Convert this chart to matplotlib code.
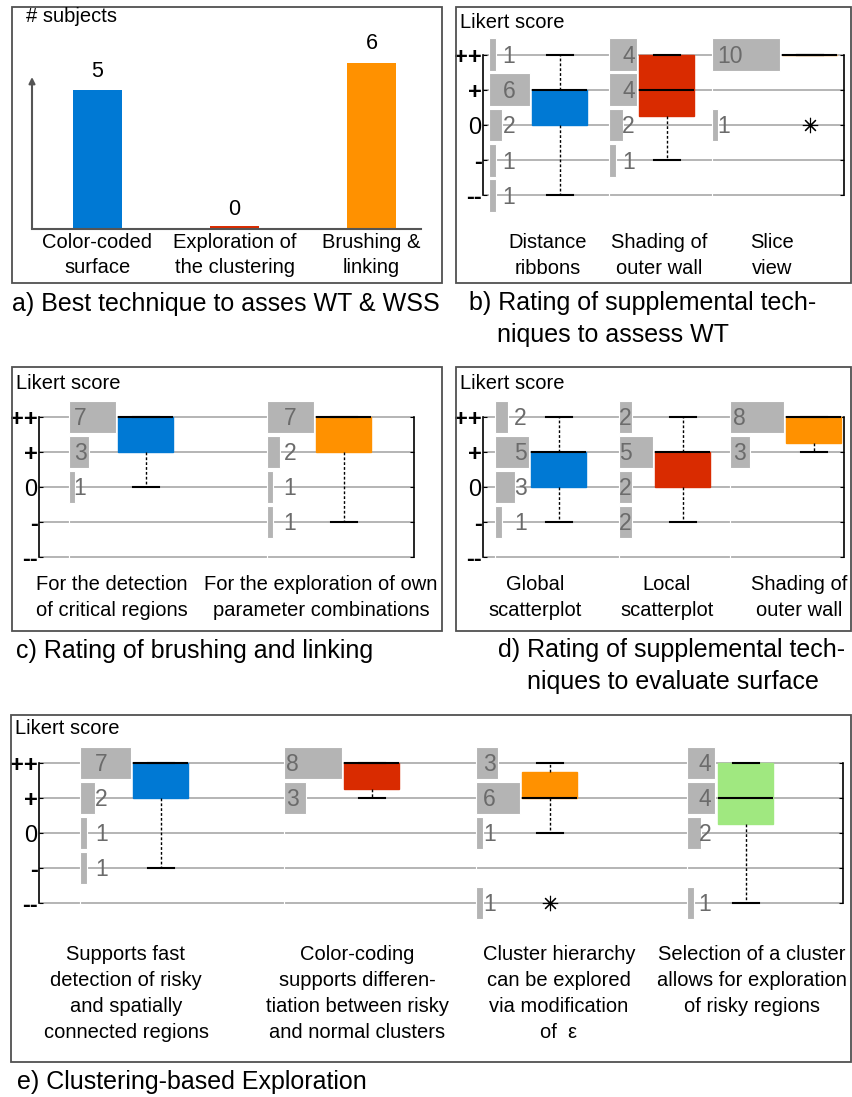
import numpy as np
import matplotlib
matplotlib.use('Agg')
import matplotlib.pyplot as plt
from matplotlib.patches import Rectangle

plt.rcParams['font.family'] = ['Liberation Sans', 'DejaVu Sans']

W, H = 852, 1097

LEVELS = [-2, -1, 0, 1, 2]
LEVEL_LABELS = ['--', '-', '0', '+', '++']

BLUE = '#0079d4'
RED = '#d92b00'
ORANGE = '#ff9100'
GREEN = '#a0e880'
HIST_GRAY = '#b4b4b4'
GRID_GRAY = '#a8a8a8'
FRAME_GRAY = '#505050'

# a) best technique, number of subjects
best_names = ['Color-coded\nsurface', 'Exploration of\nthe clustering', 'Brushing &\nlinking']
best_counts = [5, 0, 6]
best_colors = [BLUE, RED, ORANGE]

# Likert answers, counts per level from "--" to "++"
wt_names = ['Distance\nribbons', 'Shading of\nouter wall', 'Slice\nview']
wt_counts = [[1, 1, 2, 6, 1], [0, 1, 2, 4, 4], [0, 0, 1, 0, 10]]
wt_colors = [BLUE, RED, ORANGE]

bl_names = ['For the detection\nof critical regions',
            'For the exploration of own\nparameter combinations']
bl_counts = [[0, 0, 1, 3, 7], [0, 1, 1, 2, 7]]
bl_colors = [BLUE, ORANGE]

surf_names = ['Global\nscatterplot', 'Local\nscatterplot', 'Shading of\nouter wall']
surf_counts = [[0, 1, 3, 5, 2], [0, 2, 2, 5, 2], [0, 0, 0, 3, 8]]
surf_colors = [BLUE, RED, ORANGE]

clu_names = ['Supports fast\ndetection of risky\nand spatially\nconnected regions',
             'Color-coding\nsupports differen-\ntiation between risky\nand normal clusters',
             'Cluster hierarchy\ncan be explored\nvia modification\nof  \u03b5',
             'Selection of a cluster\nallows for exploration\nof risky regions']
clu_counts = [[0, 1, 1, 2, 7], [0, 0, 0, 3, 8], [1, 0, 1, 6, 3], [1, 0, 2, 4, 4]]
clu_colors = [BLUE, RED, ORANGE, GREEN]


def likert_stats(counts, whis=3.0):
    scores = np.repeat(LEVELS, counts)
    q1, med, q3 = np.percentile(scores, [25, 50, 75], method='hazen')
    iqr = q3 - q1
    inside = scores[(scores >= q1 - whis * iqr) & (scores <= q3 + whis * iqr)]
    out = scores[(scores < inside.min()) | (scores > inside.max())]
    return dict(q1=q1, med=med, q3=q3, whislo=inside.min(), whishi=inside.max(),
                fliers=np.unique(out))


fig = plt.figure(figsize=(W / 100, H / 100), dpi=100)


def px_axes(left, top, right, bottom):
    return fig.add_axes([left / W, 1 - bottom / H, (right - left) / W, (bottom - top) / H])


def fig_lines(x, y, text, dy=26, **kw):
    for i, line in enumerate(text.split('\n')):
        fig.text(x / W, 1 - (y + i * dy) / H, line, va='center', **kw)


def frame(x0, y0, x1, y1):
    fig.add_artist(Rectangle((x0 / W, 1 - y1 / H), (x1 - x0) / W, (y1 - y0) / H,
                             transform=fig.transFigure, fill=False,
                             edgecolor=FRAME_GRAY, linewidth=1.3))


def likert_panel(spine, counts, colors, centers, label_dx, count_px):
    left, top, right, bottom = spine
    unit = (bottom - top) / 4
    ax = px_axes(left, top - 0.6 * unit, right, bottom + 0.6 * unit)
    ax.set_ylim(-2.6, 2.6)
    ax.set_xlim(0, (right - left) / count_px)
    ax.set_axisbelow(True)

    pos = [(c - left) / count_px for c in centers]
    box_w = 55 / count_px
    stats = [likert_stats(c) for c in counts]
    art = ax.bxp(stats, positions=pos, widths=box_w, capwidths=26 / count_px,
                 patch_artist=True, manage_ticks=False,
                 medianprops=dict(color='black', linewidth=1.5),
                 whiskerprops=dict(color='black', linewidth=1, linestyle=(0, (2, 1.5))),
                 capprops=dict(color='black', linewidth=1.5),
                 flierprops=dict(marker=(8, 2, 0), markersize=11, markeredgecolor='black',
                                 markeredgewidth=0.8, linestyle='none'))
    for patch, col in zip(art['boxes'], colors):
        patch.set_facecolor(col)
        patch.set_edgecolor(col)
        patch.set_linewidth(1)
    for key in art:
        for a in art[key]:
            a.set_clip_on(False)
            a.set_zorder(4)

    for p, c, dx in zip(pos, counts, label_dx):
        start = p - box_w / 2 - 2.5 / count_px - max(c)
        bars = ax.barh(LEVELS, c, left=start, height=0.93, color=HIST_GRAY,
                       edgecolor='white', linewidth=0.8, zorder=3)
        for b in bars:
            b.set_clip_on(False)
        for lvl, n in zip(LEVELS, c):
            if n:
                ax.text(start + dx / count_px, lvl - 0.05, str(n), color='#6b6b6b',
                        fontsize=16.5, ha='left', va='center', zorder=5, clip_on=False)

    ax.set_yticks(LEVELS, LEVEL_LABELS)
    for t in ax.get_yticklabels():
        if t.get_text() != '0':
            t.set_fontweight('bold')
    ax.tick_params(axis='y', labelsize=17, length=3, direction='in', right=True,
                   pad=1, color='black')
    ax.set_xticks([])
    ax.yaxis.grid(True, color=GRID_GRAY, linewidth=1.2)
    for side in ['top', 'bottom']:
        ax.spines[side].set_visible(False)
    for side in ['left', 'right']:
        ax.spines[side].set_bounds(-2, 2)
        ax.spines[side].set_linewidth(1.2)
    return ax


# ---- a) bar chart
frame(12, 7, 442, 283)
ax = px_axes(32, 62.6, 421, 228.5)
ax.set_ylim(0, 6)
ax.set_xlim(-0.478, 2.361)
bars = ax.bar(range(3), best_counts, width=0.36, color=best_colors, linewidth=0)
for b, n, col in zip(bars, best_counts, best_colors):
    if n == 0:
        b.set_edgecolor(col)
        b.set_linewidth(4.3)
ax.bar_label(bars, padding=6, fontsize=15.5)
ax.set_xticks(range(3), best_names, fontsize=14.5)
for t in ax.get_xticklabels():
    t.set_linespacing(1.45)
ax.tick_params(axis='x', length=0, pad=3)
ax.set_yticks([])
for side in ['top', 'right', 'left']:
    ax.spines[side].set_visible(False)
ax.spines['bottom'].set_color('#555555')
ax.spines['bottom'].set_linewidth(1.5)
ax.annotate('', xy=(0, 0.913), xytext=(0, 0), xycoords='axes fraction',
            arrowprops=dict(arrowstyle='-|>', color='#555555', lw=1.5, mutation_scale=9,
                            shrinkA=0, shrinkB=0))
fig_lines(26, 17, '# subjects', fontsize=14.5)
fig_lines(12, 304, 'a) Best technique to asses WT & WSS', fontsize=18)

# ---- b) supplemental techniques WT
frame(456, 7, 851, 283)
likert_panel((483, 54.5, 844, 195.5), wt_counts, wt_colors,
             [559.5, 666.5, 809.5], [14, 13, 6], 6.8)
fig_lines(460, 22, 'Likert score', fontsize=14.5)
for x, name in zip([548, 659, 772], wt_names):
    fig_lines(x, 242, name, fontsize=14.5, ha='center')
fig_lines(469, 303, 'b) Rating of supplemental tech-', fontsize=18)
fig_lines(497, 335, 'niques to assess WT', fontsize=18)

# ---- c) brushing and linking
frame(12, 367, 442, 631)
likert_panel((39, 417, 414, 557), bl_counts, bl_colors,
             [145.5, 343.5], [5, 17], 6.7)
fig_lines(16, 383, 'Likert score', fontsize=14.5)
for x, name in zip([112, 321], bl_names):
    fig_lines(x, 584, name, fontsize=14.5, ha='center')
fig_lines(16, 651, 'c) Rating of brushing and linking', fontsize=18)

# ---- d) supplemental techniques surface
frame(456, 367, 851, 631)
likert_panel((483, 417, 844, 557), surf_counts, surf_colors,
             [558.5, 682.5, 813.5], [19, 0, 3], 6.7)
fig_lines(460, 383, 'Likert score', fontsize=14.5)
for x, name in zip([535, 667, 799], surf_names):
    fig_lines(x, 584, name, fontsize=14.5, ha='center')
fig_lines(498, 650, 'd) Rating of supplemental tech-', fontsize=18)
fig_lines(527, 682, 'niques to evaluate surface', fontsize=18)

# ---- e) clustering-based exploration
frame(11, 715, 851, 1062)
likert_panel((39, 763, 843, 903), clu_counts, clu_colors,
             [160.5, 371.5, 549.5, 745.5], [15, 2, 7, 12], 7.2)
fig_lines(15, 728, 'Likert score', fontsize=14.5)
for x, name in zip([126, 357, 559, 752], clu_names):
    fig_lines(x, 954, name, fontsize=14.5, ha='center')
fig_lines(17, 1082, 'e) Clustering-based Exploration', fontsize=18)

fig.savefig('out.png', dpi=100)
